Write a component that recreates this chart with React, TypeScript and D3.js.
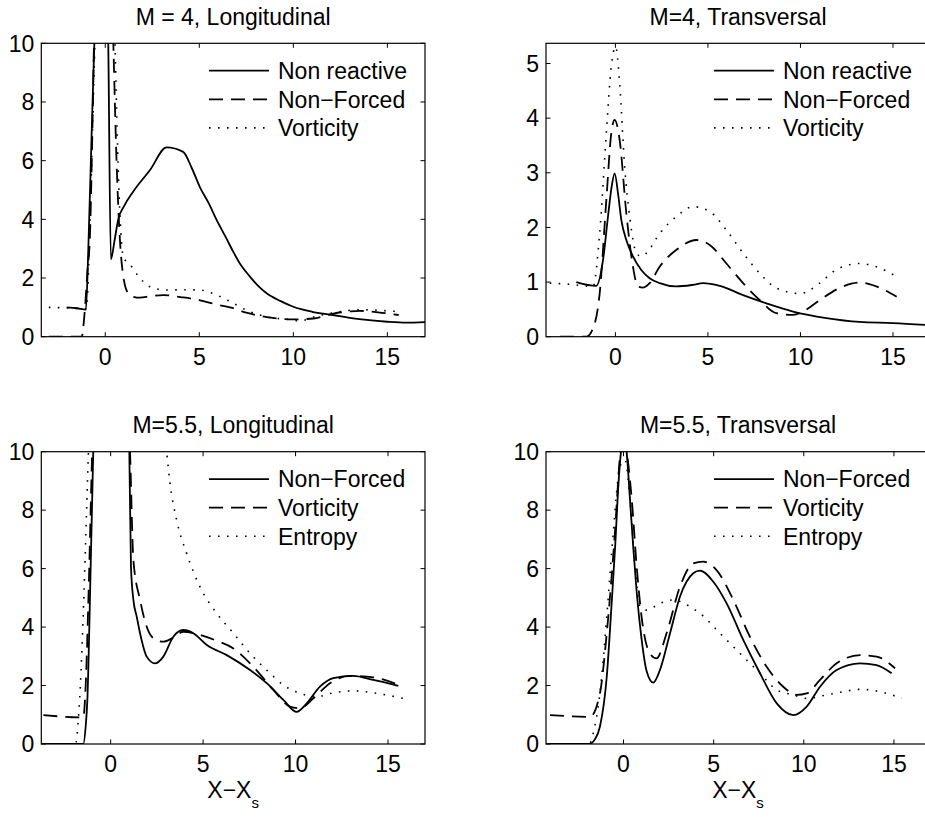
import React from "react";
import * as d3 from "d3";

type Pt = [number, number];

// ---------- tick labels & texts ----------
const xTicks = [0, 5, 10, 15];
const yTicksTen = [0, 2, 4, 6, 8, 10];
const yTicksFive = [0, 1, 2, 3, 4, 5];
const titles = ["M = 4, Longitudinal", "M=4, Transversal", "M=5.5, Longitudinal", "M=5.5, Transversal"];
const legendTop = ["Non reactive", "Non\u2212Forced", "Vorticity"];
const legendBottom = ["Non\u2212Forced", "Vorticity", "Entropy"];

// ---------- Panel 1: M = 4, Longitudinal ----------
const p1NonReactive: Pt[] = [[-2.05,1.0],[-1.5,0.97],[-1.03,0.92],[-0.9,3],[-0.72,7],[-0.58,10],[-0.3,16],[-0.05,16],[0.16,10],[0.3,2.64],[0.5,3.3],[0.69,4.0],[1.0,4.45],[1.49,4.95],[2.38,5.68],[3.26,6.45],[4.14,6.3],[4.6,5.75],[5.03,5.1],[5.5,4.55],[5.92,3.98],[6.4,3.4],[6.8,2.9],[7.2,2.45],[7.69,2.05],[8.1,1.75],[8.58,1.48],[9.3,1.22],[10,1.02],[11,0.85],[12.1,0.74],[13,0.64],[13.9,0.57],[15,0.51],[16,0.48],[17,0.5]];
const p1NonForced: Pt[] = [[-3.0,0],[-1.25,0],[-1.1,0.8],[-0.95,2.2],[-0.81,3.52],[-0.7,6.5],[-0.6,10],[-0.3,16],[0.2,16],[0.43,10],[0.6,6],[0.78,3.3],[0.95,2.1],[1.22,1.48],[1.5,1.36],[1.84,1.33],[2.4,1.38],[3.08,1.42],[4.0,1.35],[5.0,1.25],[5.9,1.1],[6.8,0.97],[7.5,0.82],[8.22,0.71],[9.0,0.63],[10,0.59],[11.06,0.62],[12.12,0.79],[13.0,0.86],[13.54,0.88],[14.5,0.83],[15.6,0.74]];
const p1Vorticity: Pt[] = [[-3.0,1.0],[-2.0,0.98],[-1.0,0.95],[-0.85,3],[-0.7,6.5],[-0.55,10],[-0.2,16],[0.3,16],[0.52,10],[0.7,5.5],[0.96,2.73],[1.4,2.39],[1.78,2.05],[2.38,1.7],[3.26,1.59],[4.2,1.6],[5.03,1.59],[5.92,1.42],[6.8,1.14],[7.69,0.85],[8.58,0.68],[10,0.57],[10.35,0.54],[11.24,0.7],[12.2,0.82],[13.5,0.92],[14.5,0.9],[15.67,0.85]];

// ---------- Panel 2: M = 4, Transversal ----------
const p2NonReactive: Pt[] = [[-2.11,1.0],[-1.03,0.93],[-0.67,1.4],[-0.4,2.2],[-0.2,2.75],[-0.04,2.99],[0.15,2.6],[0.32,2.14],[0.59,1.77],[0.95,1.47],[1.4,1.22],[1.85,1.07],[2.39,0.98],[3.29,0.92],[4.2,0.95],[4.74,0.98],[5.64,0.93],[6.9,0.76],[8.16,0.61],[9.6,0.46],[11.4,0.34],[13.2,0.27],[15,0.25],[17,0.21]];
const p2NonForced: Pt[] = [[-3.0,0],[-1.57,0],[-1.21,0.15],[-0.85,0.79],[-0.49,2.5],[-0.22,3.73],[-0.04,3.97],[0.23,3.6],[0.59,2.26],[0.95,1.28],[1.22,0.92],[1.5,0.9],[1.85,0.98],[2.39,1.28],[3.3,1.59],[4.38,1.77],[5.1,1.68],[6.0,1.34],[6.9,0.98],[7.8,0.67],[8.7,0.43],[9.6,0.4],[10.14,0.46],[11.04,0.67],[12.3,0.92],[13.2,0.99],[14.1,0.92],[15.2,0.73]];
const p2Vorticity: Pt[] = [[-3.55,0.98],[-2.5,0.96],[-1.21,0.92],[-0.85,1.89],[-0.49,3.73],[-0.22,4.95],[0.01,5.31],[0.23,4.64],[0.5,3.11],[0.77,2.2],[1.14,1.53],[1.4,1.47],[1.68,1.53],[2.39,1.89],[3.3,2.2],[4.2,2.38],[5.1,2.29],[6.0,1.95],[6.9,1.53],[7.8,1.16],[8.7,0.89],[10,0.79],[11.04,0.98],[11.9,1.22],[13.2,1.34],[14.1,1.28],[15.2,1.1]];

// ---------- Panel 3: M = 5.5, Longitudinal ----------
const p3NonForced: Pt[] = [[-3.75,0],[-1.48,0],[-1.35,0.6],[-1.26,1.5],[-1.08,6.07],[-0.94,10],[-0.5,18],[0.5,18],[1.01,10],[1.1,6.07],[1.23,4.93],[1.41,4.36],[1.59,3.79],[1.95,2.99],[2.4,2.76],[2.85,2.99],[3.39,3.67],[3.93,3.9],[4.47,3.79],[5.2,3.39],[6.28,3.04],[7.54,2.53],[8.44,2.08],[9.34,1.51],[10.06,1.1],[10.6,1.39],[11.32,1.96],[12.04,2.25],[13.12,2.33],[14.2,2.19],[15.56,1.99]];
const p3Vorticity: Pt[] = [[-3.64,0.99],[-1.48,0.91],[-1.35,2],[-1.2,5],[-1.0,10],[-0.5,18],[0.5,18],[1.05,10],[1.23,6.29],[1.59,4.93],[1.95,4.01],[2.31,3.62],[2.85,3.5],[3.39,3.64],[3.93,3.84],[4.83,3.73],[5.74,3.53],[6.64,3.27],[7.72,2.64],[8.8,1.85],[9.7,1.28],[10.24,1.22],[10.96,1.56],[11.86,2.08],[12.94,2.33],[14.2,2.28],[15.56,2.02]];
const p3Entropy: Pt[] = [[-3.75,0],[-1.9,0],[-1.75,0.8],[-1.6,2.5],[-1.45,5],[-1.3,8],[-1.2,10],[-0.5,25],[2.0,22],[2.6,13.5],[3.03,10],[3.21,8.92],[3.57,7.66],[4.11,6.52],[4.83,5.38],[5.74,4.47],[6.64,3.79],[7.54,3.1],[8.44,2.53],[9.34,2.02],[10.24,1.73],[11.14,1.62],[12.04,1.75],[13.12,1.82],[14.2,1.75],[15.83,1.56]];

// ---------- Panel 4: M = 5.5, Transversal ----------
const p4NonForced: Pt[] = [[-4.3,0],[-1.9,0],[-1.6,0.15],[-1.31,0.59],[-0.93,2.3],[-0.65,4.9],[-0.46,6.8],[-0.28,8.9],[-0.14,10],[0.0,10.5],[0.17,10],[0.36,8.35],[0.55,6.64],[0.73,5.2],[1.0,3.6],[1.28,2.5],[1.65,2.1],[2.02,2.53],[2.58,3.79],[3.13,5.04],[3.87,5.84],[4.24,5.93],[4.98,5.55],[5.72,4.81],[6.64,3.56],[7.57,2.42],[8.5,1.39],[9.42,0.99],[10.16,1.28],[10.9,1.96],[11.82,2.53],[13.12,2.76],[14.04,2.7],[14.87,2.42]];
const p4Vorticity: Pt[] = [[-4.08,0.99],[-1.86,0.93],[-1.31,1.73],[-0.93,3.79],[-0.48,7.21],[-0.2,9.81],[0.0,10.6],[0.2,9.9],[0.46,8.35],[0.73,6.07],[1.0,4.36],[1.46,3.1],[1.83,2.93],[2.39,3.79],[3.13,5.38],[3.87,6.18],[4.42,6.24],[5.16,5.95],[6.09,4.93],[7.01,3.67],[7.94,2.64],[8.86,1.96],[9.6,1.68],[10.16,1.73],[10.9,2.19],[11.82,2.76],[13.12,3.04],[14.04,2.99],[15.06,2.59]];
const p4Entropy: Pt[] = [[-4.3,0],[-1.9,0],[-1.68,0.37],[-1.31,1.73],[-0.93,4.36],[-0.57,7.21],[-0.2,9.49],[0.08,9.72],[0.36,8.35],[0.64,6.07],[0.91,4.7],[1.28,4.58],[2.02,4.81],[2.76,4.93],[3.5,4.76],[4.24,4.47],[5.35,3.79],[6.64,2.99],[7.57,2.42],[8.5,1.85],[9.42,1.68],[10.16,1.56],[11.27,1.68],[12.2,1.79],[13.12,1.87],[14.23,1.79],[15.43,1.56]];

// ---------- styles / layout ----------
const FONT = "'Liberation Sans', Arial, Helvetica, sans-serif";
const FS = 23;
const STYLES = [
  { dash: "none", width: 1.8 },
  { dash: "14,8", width: 1.8 },
  { dash: "1.6,7.4", width: 1.6 },
];

type PanelDef = {
  id: string; left: number; top: number; width: number; height: number;
  xDomain: [number, number]; yDomain: [number, number]; yTicks: number[];
  title: string; labels: string[]; series: Pt[][]; xLabel: boolean;
};

const panels: PanelDef[] = [
  { id: "p1", left: 41.3, top: 43.3, width: 383.7, height: 293.4, xDomain: [-3.4, 17], yDomain: [0, 10], yTicks: yTicksTen, title: titles[0], labels: legendTop, series: [p1NonReactive, p1NonForced, p1Vorticity], xLabel: false },
  { id: "p2", left: 546, top: 43.3, width: 384, height: 293.4, xDomain: [-3.75, 17], yDomain: [0, 5.37], yTicks: yTicksFive, title: titles[1], labels: legendTop, series: [p2NonReactive, p2NonForced, p2Vorticity], xLabel: false },
  { id: "p3", left: 41.3, top: 451.7, width: 383.7, height: 292.3, xDomain: [-3.75, 17], yDomain: [0, 10], yTicks: yTicksTen, title: titles[2], labels: legendBottom, series: [p3NonForced, p3Vorticity, p3Entropy], xLabel: true },
  { id: "p4", left: 546, top: 451.7, width: 384, height: 292.3, xDomain: [-4.3, 17], yDomain: [0, 10], yTicks: yTicksTen, title: titles[3], labels: legendBottom, series: [p4NonForced, p4Vorticity, p4Entropy], xLabel: true },
];

function Panel({ p }: { p: PanelDef }) {
  const x = d3.scaleLinear().domain(p.xDomain).range([p.left, p.left + p.width]);
  const y = d3.scaleLinear().domain(p.yDomain).range([p.top + p.height, p.top]);
  const line = d3.line<Pt>().x((d) => x(d[0])).y((d) => y(d[1])).curve(d3.curveMonotoneX);
  const right = p.left + p.width;
  const bottom = p.top + p.height;
  const TL = 4.5;
  return (
    <g>
      <defs>
        <clipPath id={"clip-" + p.id}>
          <rect x={p.left} y={p.top} width={p.width} height={p.height} />
        </clipPath>
      </defs>
      <text x={p.left + p.width / 2} y={p.top - 18.5} textAnchor="middle" fontFamily={FONT} fontSize={FS}>{p.title}</text>
      <g clipPath={`url(#clip-${p.id})`}>
        {p.series.map((s, i) => (
          <path key={i} d={line(s) || ""} fill="none" stroke="#000" strokeWidth={STYLES[i].width} strokeDasharray={STYLES[i].dash} />
        ))}
      </g>
      {/* ticks */}
      {xTicks.map((t) => (
        <g key={"x" + t}>
          <line x1={x(t)} x2={x(t)} y1={bottom} y2={bottom - TL} stroke="#000" strokeWidth={1} />
          <line x1={x(t)} x2={x(t)} y1={p.top} y2={p.top + TL} stroke="#000" strokeWidth={1} />
          <text x={x(t)} y={bottom + 28} textAnchor="middle" fontFamily={FONT} fontSize={FS}>{t}</text>
        </g>
      ))}
      {p.yTicks.map((t) => (
        <g key={"y" + t}>
          <line x1={p.left} x2={p.left + TL} y1={y(t)} y2={y(t)} stroke="#000" strokeWidth={1} />
          <line x1={right} x2={right - TL} y1={y(t)} y2={y(t)} stroke="#000" strokeWidth={1} />
          <text x={p.left - 7} y={y(t) + 8.3} textAnchor="end" fontFamily={FONT} fontSize={FS}>{t}</text>
        </g>
      ))}
      <rect x={p.left} y={p.top} width={p.width} height={p.height} fill="none" stroke="#000" strokeWidth={1.2} />
      {/* legend */}
      {p.labels.map((lab, i) => {
        const ry = p.top + 27.4 + i * 28.6;
        return (
          <g key={lab}>
            <line x1={right - 216} x2={right - 156} y1={ry} y2={ry} stroke="#000" strokeWidth={STYLES[i].width} strokeDasharray={STYLES[i].dash} />
            <text x={right - 147} y={ry + 8.2} fontFamily={FONT} fontSize={FS}>{lab}</text>
          </g>
        );
      })}
      {p.xLabel && (
        <text x={p.left + p.width / 2} y={bottom + 54} textAnchor="middle" fontFamily={FONT} fontSize={FS}>
          X{"\u2212"}X<tspan fontSize={15} dy={10}>s</tspan>
        </text>
      )}
    </g>
  );
}

export default function App() {
  return (
    <svg width={925} height={817} style={{ position: "absolute", left: 0, top: 0, background: "#fff" }}>
      <rect x={0} y={0} width={925} height={817} fill="#fff" />
      {panels.map((p) => (
        <Panel key={p.id} p={p} />
      ))}
    </svg>
  );
}
